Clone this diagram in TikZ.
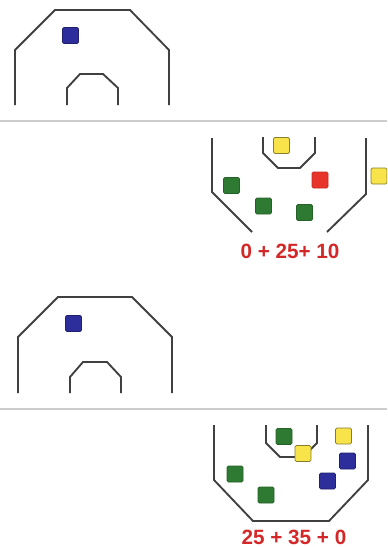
\documentclass[tikz,border=0pt]{standalone}
\usepackage{fontspec}
\setmainfont{Liberation Sans}
\definecolor{WallGray}  {RGB}{64,64,64}
\definecolor{RuleGray}  {RGB}{204,204,204}
\definecolor{ChipBlue}  {RGB}{45,45,155}
\definecolor{ChipGreen} {RGB}{46,122,50}
\definecolor{ChipRed}   {RGB}{232,51,42}
\definecolor{ChipYellow}{RGB}{248,227,74}
\definecolor{ScoreRed}  {RGB}{212,40,40}
\usetikzlibrary{calc}

\begin{document}
\begin{tikzpicture}[x=0.75pt,y=-0.75pt,
    wall/.style={WallGray,line width=1.4pt,line join=miter},
    rule/.style={RuleGray,line width=1.5pt},
    chip/.style={minimum size=12pt,inner sep=0pt,rounded corners=1pt,line width=0.6pt},
    blue chip/.style={chip,fill=ChipBlue,draw=ChipBlue!70!black},
    green chip/.style={chip,fill=ChipGreen,draw=ChipGreen!80!black},
    red chip/.style={chip,fill=ChipRed,draw=ChipRed!85!black},
    yellow chip/.style={chip,fill=ChipYellow,draw=ChipYellow!55!black},
    score/.style={ScoreRed,font=\bfseries\fontsize{15.5}{18}\selectfont}]
  \useasboundingbox (0,0) rectangle (387,547);
  \clip (0,0) rectangle (387,547);
  %% Panel 1: empty basket
  \draw[wall](15,105)--(15,50)--(55,10)--(130,10)--(169,50)--(169,105);
  \draw[wall](67,105)--(67,88)--(80,74)--(103,74)--(118,88)--(118,105);
  \node[blue chip] (b1) at (70.5,35.5) {};
  %% separator
  \draw[rule](0,121)--(387,121);
  %% Panel 2: first score
  \draw[wall](212,138)--(212,192)--(252,232);
  \draw[wall](366,138)--(366,194)--(327,232);
  \draw[wall](263,137)--(263,153)--(278,168)--(300,168)--(315,153)--(315,137);
  \node[yellow chip] (y1) at (281.5,145.5) {};
  \node[red chip]    (r1) at (320,180) {};
  \node[green chip]  (g1) at (231.5,185.5) {};
  \node[green chip]  (g2) at (263.5,206) {};
  \node[green chip]  (g3) at (304.5,212.5) {};
  \node[yellow chip] (y2) at (379,176) {};
  \node[score] (s1) at (290,251) {0 + 25+ 10};
  %% Panel 3: empty basket
  \draw[wall](18,393)--(18,337)--(58,297)--(132,297)--(172,337)--(172,393);
  \draw[wall](70,393)--(70,377)--(83,362)--(107,362)--(121,377)--(121,393);
  \node[blue chip] (b2) at (73.5,323.5) {};
  %% separator
  \draw[rule](0,409)--(387,409);
  %% Panel 4: second score
  \draw[wall](214,425)--(214,480)--(253,521)--(329,521)--(368,480)--(368,425);
  \draw[wall](266,425)--(266,443)--(280,457)--(303,457)--(317,443)--(317,425);
  \node[green chip]  (g4) at (284,436.5) {};
  \node[yellow chip] (y3) at (303,453.5) {};
  \node[yellow chip] (y4) at (343.5,436) {};
  \node[blue chip]   (b3) at (347.5,461) {};
  \node[blue chip]   (b4) at (327.5,481) {};
  \node[green chip]  (g5) at (235,474) {};
  \node[green chip]  (g6) at (266,495) {};
  \node[score] (s2) at (294,537) {25 + 35 + 0};
\end{tikzpicture}
\end{document}
